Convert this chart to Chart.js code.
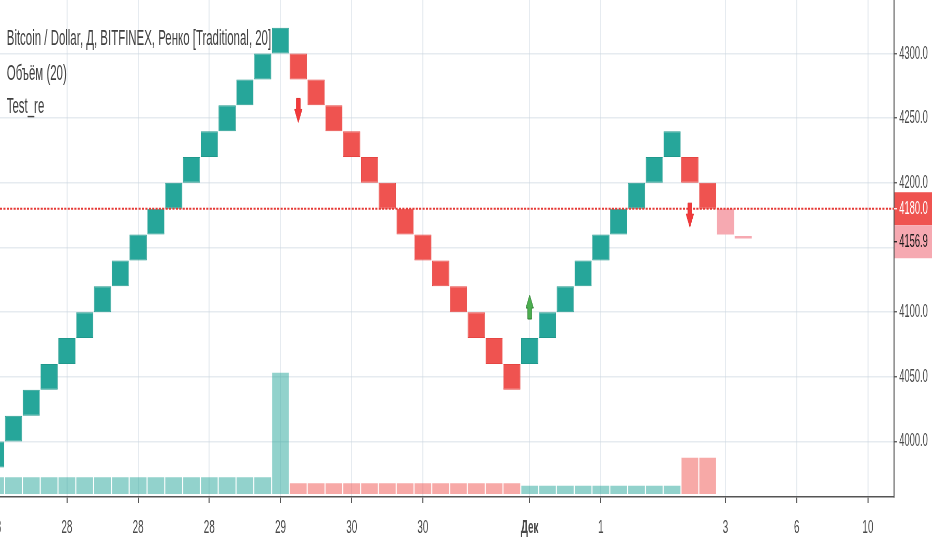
<!DOCTYPE html>
<html lang="ru">
<head>
<meta charset="utf-8">
<title>Bitcoin / Dollar, Ренко</title>
<script src="https://cdn.jsdelivr.net/npm/chart.js@4.4.1/dist/chart.umd.min.js"></script>
<style>
  html, body { margin: 0; padding: 0; width: 932px; height: 550px; overflow: hidden; background: #fff; }
  /* le graphique est dessiné large puis comprimé horizontalement, comme la capture d'origine */
  #cadre { position: absolute; left: 0; top: 0; width: 1792px; height: 550px; transform: scaleX(0.52009); transform-origin: 0 0; }
  .legende { position: absolute; left: 13px; font: 22px "Liberation Sans", Arial, sans-serif; line-height: 22px; color: #404040; white-space: nowrap; }
</style>
</head>
<body>
<div id="cadre">
  <canvas id="graphique"></canvas>
  <div class="legende" style="top:27px">Bitcoin / Dollar, Д, BITFINEX, Ренко [Traditional, 20]</div>
  <div class="legende" style="top:62px">Объём (20)</div>
  <div class="legende" style="top:95px">Test_re</div>
</div>
<script>
// Briques Renko (taille de brique 20)
const tailleBrique = 20;
const colsHausse = [0, 1, 2, 3, 4, 5, 6, 7, 8, 9, 10, 11, 12, 13, 14, 15, 16, 30, 31, 32, 33, 34, 35, 36, 37, 38];
const basHausse = [3980, 4000, 4020, 4040, 4060, 4080, 4100, 4120, 4140, 4160, 4180, 4200, 4220, 4240, 4260, 4280, 4300,
                   4060, 4080, 4100, 4120, 4140, 4160, 4180, 4200, 4220];
const colsBaisse = [17, 18, 19, 20, 21, 22, 23, 24, 25, 26, 27, 28, 29, 39, 40];
const basBaisse = [4280, 4260, 4240, 4220, 4200, 4180, 4160, 4140, 4120, 4100, 4080, 4060, 4040, 4200, 4180];
// brique en cours (non confirmée) et prix actuel
const colsAttente = [41, 42];
const basAttente = [4160, 4156.9];
const hautAttente = [4180, 4159];
const prixDerniere = 4180;
const prixActuel = 4156.9;

// Volume (20)
const colsVolHausse = [0, 1, 2, 3, 4, 5, 6, 7, 8, 9, 10, 11, 12, 13, 14, 15, 16, 30, 31, 32, 33, 34, 35, 36, 37, 38];
const volHausse = [1.04, 1.04, 1.04, 1.04, 1.04, 1.04, 1.04, 1.04, 1.04, 1.04, 1.04, 1.04, 1.04, 1.04, 1.04, 1.04, 7.58,
                   0.52, 0.52, 0.52, 0.52, 0.52, 0.52, 0.52, 0.52, 0.52];
const colsVolBaisse = [17, 18, 19, 20, 21, 22, 23, 24, 25, 26, 27, 28, 29, 39, 40];
const volBaisse = [0.67, 0.67, 0.67, 0.67, 0.67, 0.67, 0.67, 0.67, 0.67, 0.67, 0.67, 0.67, 0.67, 2.27, 2.27];

// Signaux Test_re (flèches)
const flecheCols = [17, 30, 39];
const flechePrix = [4256, 4104, 4175];
const flecheSens = ['bas', 'haut', 'bas'];

// Graduations
const prixTicks = [4000, 4050, 4100, 4150, 4200, 4250, 4300];
const tempsCols = [0, 4, 8, 12, 16, 20, 24, 30, 34, 41, 45, 49];
const tempsLabels = ['28', '28', '28', '28', '29', '30', '30', 'Дек', '1', '3', '6', '10'];

const VERT = '#26a69a';
const ROUGE = '#ef5350';
const grille = 'rgba(205, 215, 225, 0.5)';

// pas de marges automatiques autour des axes
function sansMarge(s) {
  s.paddingLeft = 0;
  s.paddingRight = 0;
  s.paddingTop = 0;
  s.paddingBottom = 0;
}

// Ligne pointillée du dernier prix + flèches
const pluginSignaux = {
  id: 'signaux',
  afterDatasetsDraw(chart) {
    const ctx = chart.ctx, x = chart.scales.x, y = chart.scales.y, zone = chart.chartArea;
    ctx.save();
    // ligne du prix de la dernière brique
    const yp = y.getPixelForValue(prixDerniere);
    ctx.strokeStyle = '#e53935';
    ctx.lineWidth = 2;
    ctx.setLineDash([4, 2.5]);
    ctx.beginPath();
    ctx.moveTo(zone.left, yp);
    ctx.lineTo(zone.right, yp);
    ctx.stroke();
    ctx.setLineDash([]);
    // flèches
    flecheCols.forEach(function(c, i) {
      const px = x.getPixelForValue(c);
      const py = y.getPixelForValue(flechePrix[i]);
      const d = flecheSens[i] === 'bas' ? 1 : -1;
      const tige = 3.8, tete = 7.2;
      ctx.beginPath();
      ctx.moveTo(px - tige, py - 12 * d);
      ctx.lineTo(px + tige, py - 12 * d);
      ctx.lineTo(px + tige, py - 1 * d);
      ctx.lineTo(px + tete, py - 1 * d);
      ctx.lineTo(px, py + 12 * d);
      ctx.lineTo(px - tete, py - 1 * d);
      ctx.lineTo(px - tige, py - 1 * d);
      ctx.closePath();
      ctx.fillStyle = d === 1 ? '#f2393b' : '#4cae50';
      ctx.strokeStyle = d === 1 ? '#e0302f' : '#2e7d32';
      ctx.lineWidth = 1;
      ctx.fill();
      ctx.stroke();
    });
    ctx.restore();
  },
  afterDraw(chart) {
    // étiquettes de prix sur l'axe de droite
    const ctx = chart.ctx, y = chart.scales.y;
    const h = 33;
    const y1 = y.getPixelForValue(prixDerniere);
    const y2 = Math.max(y.getPixelForValue(prixActuel), y1 + h);
    const etiquettes = [
      { centre: y1, fond: ROUGE, texte: '#ffffff', label: prixDerniere.toFixed(1) },
      { centre: y2, fond: '#f6a9b1', texte: '#1a1a1a', label: prixActuel.toFixed(1) }
    ];
    ctx.save();
    etiquettes.forEach(function(e) {
      ctx.fillStyle = e.fond;
      ctx.fillRect(y.left + 1, e.centre - h / 2, chart.width - y.left, h);
      ctx.strokeStyle = e.texte;
      ctx.lineWidth = 1.3;
      ctx.beginPath();
      ctx.moveTo(y.left, e.centre);
      ctx.lineTo(y.left + 6, e.centre);
      ctx.stroke();
      ctx.fillStyle = e.texte;
      ctx.font = '18px "Liberation Sans", Arial, sans-serif';
      ctx.textBaseline = 'middle';
      ctx.textAlign = 'left';
      ctx.fillText(e.label, y.left + 10, e.centre);
    });
    ctx.restore();
  }
};

function briques(cols, bas) {
  return cols.map(function(c, i) { return { x: c, y: [bas[i], bas[i] + tailleBrique] }; });
}

new Chart(document.getElementById('graphique'), {
  type: 'bar',
  data: {
    datasets: [
      { label: 'Hausse', data: briques(colsHausse, basHausse), backgroundColor: VERT, borderColor: '#21998d',
        borderWidth: 1, borderSkipped: false, grouped: false, barPercentage: 0.96, categoryPercentage: 1, yAxisID: 'y', order: 1 },
      { label: 'Baisse', data: briques(colsBaisse, basBaisse), backgroundColor: ROUGE, borderColor: '#e64643',
        borderWidth: 1, borderSkipped: false, grouped: false, barPercentage: 0.96, categoryPercentage: 1, yAxisID: 'y', order: 1 },
      { label: 'En cours', data: colsAttente.map(function(c, i) { return { x: c, y: [basAttente[i], hautAttente[i]] }; }),
        backgroundColor: '#f6a9b1', borderWidth: 0, grouped: false, barPercentage: 0.96, categoryPercentage: 1, yAxisID: 'y', order: 1 },
      { label: 'Volume hausse', data: colsVolHausse.map(function(c, i) { return { x: c, y: volHausse[i] }; }),
        backgroundColor: 'rgba(38, 166, 154, 0.5)', borderWidth: 0, grouped: false, barPercentage: 0.94, categoryPercentage: 1, yAxisID: 'vol', order: 2 },
      { label: 'Volume baisse', data: colsVolBaisse.map(function(c, i) { return { x: c, y: volBaisse[i] }; }),
        backgroundColor: 'rgba(239, 83, 80, 0.5)', borderWidth: 0, grouped: false, barPercentage: 0.94, categoryPercentage: 1, yAxisID: 'vol', order: 2 }
    ]
  },
  options: {
    responsive: true,
    maintainAspectRatio: false,
    animation: false,
    layout: { padding: 0, autoPadding: false },
    plugins: { legend: { display: false }, tooltip: { enabled: false } },
    scales: {
      x: {
        type: 'linear',
        position: 'bottom',
        offset: false,
        min: 0.242,
        max: 50.47,
        afterBuildTicks: function(s) { s.ticks = tempsCols.map(function(v) { return { value: v }; }); },
        afterFit: function(s) { s.height = 53; sansMarge(s); },
        ticks: {
          autoSkip: false,
          maxRotation: 0,
          padding: 13,
          color: '#4a4a4a',
          font: function(c) {
            const gras = c.tick && tempsLabels[tempsCols.indexOf(c.tick.value)] === 'Дек';
            return { family: '"Liberation Sans", Arial, sans-serif', size: 19, weight: gras ? 'bold' : 'normal' };
          },
          callback: function(v, i) { return tempsLabels[i]; }
        },
        grid: { offset: false, color: grille, lineWidth: 2, tickLength: 6, tickColor: '#555', tickWidth: 2 },
        border: { color: '#555', width: 1.5 }
      },
      y: {
        type: 'linear',
        position: 'right',
        min: 3957.1,
        max: 4341.4,
        afterBuildTicks: function(s) { s.ticks = prixTicks.map(function(v) { return { value: v }; }); },
        afterFit: function(s) { s.width = 73; sansMarge(s); },
        ticks: {
          padding: 4,
          color: '#4a4a4a',
          font: { family: '"Liberation Sans", Arial, sans-serif', size: 18 },
          callback: function(v) { return Number(v).toFixed(1); }
        },
        grid: { color: grille, lineWidth: 1.5, tickLength: 6, tickColor: '#555', tickWidth: 1.3 },
        border: { color: '#555', width: 2 }
      },
      vol: {
        type: 'linear',
        display: false,
        min: -0.19,
        max: 30.9,
        afterFit: sansMarge
      }
    }
  },
  plugins: [pluginSignaux]
});
</script>
</body>
</html>
